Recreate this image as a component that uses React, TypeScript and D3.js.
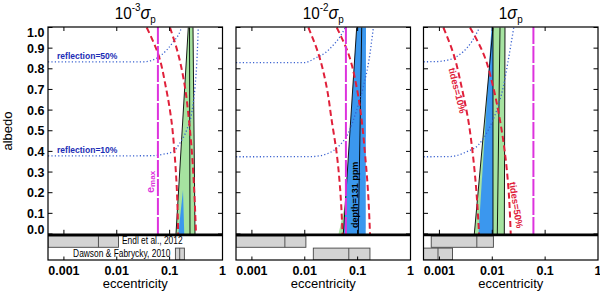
import React from "react";
import * as d3 from "d3";

type Pt = [number, number];

// ---------- data ----------
const panelTitleBase = ["10", "10", "1"];
const panelTitleExp = ["-3", "-2", ""];
const eccDomain: [number, number] = [0.0005, 1];
const xTickValues = [0.001, 0.01, 0.1, 1];
const xTickLabels = ["0.001", "0.01", "0.1", "1"];
const yTickValues = [0, 0.1, 0.2, 0.3, 0.4, 0.5, 0.6, 0.7, 0.8, 0.9, 1.0];
const yTickLabels = ["0.0", "0.1", "0.2", "0.3", "0.4", "0.5", "0.6", "0.7", "0.8", "0.9", "1.0"];
const eMax = 0.06;

const tideAlbedo = [1, 0.875, 0.71, 0.55, 0.39, 0.23, 0];
const tides10E = [
  [0.0368, 0.06, 0.085, 0.108, 0.124, 0.136, 0.145],
  [0.0117, 0.018, 0.026, 0.0323, 0.0402, 0.0463, 0.0518],
  [0.00119, 0.00183, 0.00264, 0.00352, 0.00427, 0.00492, 0.00562],
];
const tides50E = [
  [0.1016, 0.1439, 0.1954, 0.2323, 0.2649, 0.2891, 0.3155],
  [0.0402, 0.0665, 0.0959, 0.1194, 0.1377, 0.1549, 0.1714],
  [0.00379, 0.00676, 0.01045, 0.014, 0.01741, 0.0201, 0.02233],
];

const reflection50: Pt[][] = [
  [[0.0005, 0.834], [0.0318, 0.834], [0.045, 0.84], [0.0569, 0.851], [0.0879, 0.891], [0.1172, 0.931], [0.157, 0.98], [0.1675, 1.0]],
  [[0.0005, 0.83], [0.0101, 0.83], [0.01256, 0.838], [0.0156, 0.851], [0.02415, 0.877], [0.0347, 0.915], [0.0463, 0.955], [0.0585, 1.0]],
  [[0.0005, 0.834], [0.0009, 0.835], [0.001185, 0.838], [0.001832, 0.851], [0.00283, 0.883], [0.00408, 0.931], [0.00544, 0.988], [0.00574, 1.0]],
];
const reflection10: Pt[][] = [
  [[0.0005, 0.378], [0.0426, 0.379], [0.0748, 0.386], [0.1172, 0.4], [0.157, 0.441], [0.2104, 0.504], [0.2612, 0.586], [0.302, 0.712], [0.3334, 0.877], [0.348, 1.0]],
  [[0.0005, 0.374], [0.0135, 0.375], [0.0279, 0.391], [0.043, 0.423], [0.0665, 0.489], [0.0959, 0.6], [0.128, 0.713], [0.164, 0.843], [0.1986, 1.0]],
  [[0.0005, 0.374], [0.00159, 0.375], [0.00328, 0.3985], [0.00544, 0.431], [0.00841, 0.504], [0.01213, 0.6], [0.01617, 0.713], [0.0201, 0.843], [0.0255, 1.0]],
];

const greenBand: Pt[][] = [
  [[0.2254, 1], [0.2767, 1], [0.302, 0], [0.1318, 0]],
  [[0.0435, 0], [0.0552, 0], [0.0603, 0.165]],
  [[0.00457, 0], [0.01689, 0], [0.01741, 1], [0.01032, 1]],
];
const blueBand: Pt[][] = [
  [[0.146, 0], [0.189, 0], [0.179, 0.213]],
  [[0.0959, 1], [0.1439, 1], [0.1422, 0], [0.0536, 0]],
  [[0.00549, 0], [0.01032, 0], [0.01032, 1], [0.00967, 1]],
];
const bandEdges: Pt[][][] = [
  [[[0.1318, 0], [0.2254, 1]], [[0.2427, 0], [0.2377, 1]], [[0.302, 0], [0.2767, 1]]],
  [[[0.0536, 0], [0.0959, 1]], [[0.103, 0], [0.1194, 1]]],
  [[[0.00457, 0], [0.01032, 1]], [[0.01032, 0], [0.01032, 1]], [[0.01245, 0], [0.014, 1]], [[0.01689, 0], [0.01741, 1]]],
];

// [low, median, high]
const endlBars = [
  [0.0005, 0.0045, 0.0108],
  [0.0005, 0.0042, 0.0105],
  [0.0007, 0.0051, 0.0105],
];
const dawsonBars = [
  [0.1286, 0.155, 0.19],
  [0.0145, 0.068, 0.171],
  [0.0005, 0.00094, 0.00177],
];

// ---------- layout ----------
const panelLeft = [48, 236, 423.5];
const panelWidth = 174.5;
const frameTop = 27;
const plotTop = 27.5;
const plotBottom = 234;
const thickY = 234.8;
const rowMid = 247.6;
const stripBottom = 260;
const FONT = "'Liberation Sans', Arial, Helvetica, sans-serif";

const GREEN = "#a6e3a0";
const BLUE = "#3b97ee";
const RED = "#e0203a";
const DOT = "#3a62d0";
const MAG = "#dd33dd";

function Panel({ i }: { i: number }) {
  const x0 = panelLeft[i];
  const x1 = x0 + panelWidth;
  const cx = (x0 + x1) / 2;
  const x = d3.scaleLog().domain(eccDomain).range([x0, x1]);
  const y = d3.scaleLinear().domain([0, 1]).range([plotBottom, plotTop]);
  const clipId = `plotclip${i}`;
  const stripClip = `stripclip${i}`;
  const lineMX = d3.line<Pt>().x((d) => x(d[0])).y((d) => y(d[1])).curve(d3.curveMonotoneX);
  const lineMY = d3.line<Pt>().x((d) => x(d[0])).y((d) => y(d[1])).curve(d3.curveMonotoneY);
  const lin = d3.line<Pt>().x((d) => x(d[0])).y((d) => y(d[1]));
  const poly = (p: Pt[]) => (lin(p) || "") + "Z";
  const tide10: Pt[] = tides10E[i].map((e, k) => [e, tideAlbedo[k]] as Pt);
  const tide50: Pt[] = tides50E[i].map((e, k) => [e, tideAlbedo[k]] as Pt);

  const bar = (b: number[], top: number, bot: number, key: string) => (
    <g key={key}>
      <rect x={x(b[0])} y={top} width={x(b[2]) - x(b[0])} height={bot - top} fill="#d3d3d3" stroke="#444" strokeWidth={0.9} />
      <line x1={x(b[1])} x2={x(b[1])} y1={top} y2={bot} stroke="#444" strokeWidth={0.9} />
    </g>
  );

  return (
    <g>
      <defs>
        <clipPath id={clipId}>
          <rect x={x0} y={frameTop} width={panelWidth} height={plotBottom - frameTop} />
        </clipPath>
        <clipPath id={stripClip}>
          <rect x={x0} y={thickY} width={panelWidth} height={stripBottom - thickY} />
        </clipPath>
      </defs>

      <g clipPath={`url(#${clipId})`}>
        <path d={poly(greenBand[i])} fill={GREEN} stroke="none" />
        <path d={poly(blueBand[i])} fill={BLUE} stroke="none" />
        {bandEdges[i].map((seg, k) => (
          <path key={k} d={lin(seg) || ""} stroke="#000" strokeWidth={0.9} fill="none" />
        ))}
        <path d={lineMX(reflection50[i]) || ""} stroke={DOT} strokeWidth={1.3} strokeDasharray="1.2 2.2" fill="none" />
        <path d={lineMX(reflection10[i]) || ""} stroke={DOT} strokeWidth={1.3} strokeDasharray="1.2 2.2" fill="none" />
        <path d={lineMY(tide10) || ""} stroke={RED} strokeWidth={2} strokeDasharray="6 3.5" fill="none" />
        <path d={lineMY(tide50) || ""} stroke={RED} strokeWidth={2} strokeDasharray="6 3.5" fill="none" />
        <line x1={x(eMax)} x2={x(eMax)} y1={frameTop} y2={plotBottom} stroke={MAG} strokeWidth={2} strokeDasharray="17 2" />
      </g>

      {/* annotations */}
      {i === 0 && (
        <g fontFamily={FONT} fontWeight="bold">
          <text transform={`translate(${x(0.00074)},${y(0.834) - 2.5}) scale(0.9,1)`} fontSize={9.5} fill="#1a2db5">reflection=50%</text>
          <text transform={`translate(${x(0.00074)},${y(0.378) - 2.5}) scale(0.9,1)`} fontSize={9.5} fill="#1a2db5">reflection=10%</text>
          <text transform={`translate(${x(eMax) - 8},${y(0.252)}) rotate(-90)`} textAnchor="middle" dominantBaseline="central" fill={MAG} fontSize={11}>
            e<tspan fontSize={8} dy={2.5}>max</tspan>
          </text>
          <text transform={`translate(${x(endlBars[0][2]) + 3.4},${rowMid - 3.3}) scale(0.8,1)`} fontSize={10.5} fontWeight="normal" fill="#000">Endl et al., 2012</text>
          <text transform={`translate(${x(dawsonBars[0][0]) - 5},${stripBottom - 2.8}) scale(0.8,1)`} textAnchor="end" fontSize={10.5} fontWeight="normal" fill="#000">Dawson &amp; Fabrycky, 2010</text>
        </g>
      )}
      {i === 1 && (
        <text transform={`translate(${x(0.089)},${y(0.19)}) rotate(-90)`} textAnchor="middle" dominantBaseline="central" fontFamily={FONT} fontWeight="bold" fontSize={9} fill="#000">depth=131 ppm</text>
      )}
      {i === 2 && (
        <g fontFamily={FONT} fontWeight="bold" fill={RED} fontSize={9.5}>
          <text transform={`translate(${x(0.0022)},${y(0.695)}) rotate(76)`} textAnchor="middle" dominantBaseline="central">tides=10%</text>
          <text transform={`translate(${x(0.0285)},${y(0.14)}) rotate(81)`} textAnchor="middle" dominantBaseline="central">tides=50%</text>
        </g>
      )}

      {/* strip bars */}
      <g clipPath={`url(#${stripClip})`}>
        {bar(endlBars[i], 236, rowMid - 0.3, "endl")}
        {bar(dawsonBars[i], rowMid + 0.5, stripBottom, "dawson")}
      </g>

      {/* frame */}
      <rect x={x0} y={frameTop} width={panelWidth} height={stripBottom - frameTop} fill="none" stroke="#000" strokeWidth={1.2} />
      <line x1={x0} x2={x1} y1={thickY} y2={thickY} stroke="#000" strokeWidth={2.8} />

      {/* ticks */}
      {yTickValues.map((v) => (
        <g key={"yt" + v}>
          <line x1={x0} x2={x0 + 4.5} y1={y(v)} y2={y(v)} stroke="#000" strokeWidth={1} />
          <line x1={x1 - 4.5} x2={x1} y1={y(v)} y2={y(v)} stroke="#000" strokeWidth={1} />
        </g>
      ))}
      {xTickValues.slice(0, 3).map((v) => (
        <g key={"xt" + v}>
          <line x1={x(v)} x2={x(v)} y1={frameTop} y2={frameTop + 4} stroke="#000" strokeWidth={1} />
          <line x1={x(v)} x2={x(v)} y1={thickY - 5} y2={thickY} stroke="#000" strokeWidth={1} />
          <line x1={x(v)} x2={x(v)} y1={stripBottom - 3.5} y2={stripBottom} stroke="#000" strokeWidth={1} />
        </g>
      ))}

      {/* x tick labels */}
      {xTickValues.map((v, k) => (
        <text key={"xl" + v} x={x(v)} y={274.5} textAnchor="middle" fontFamily={FONT} fontWeight="bold" fontSize={12.5}>
          {xTickLabels[k]}
        </text>
      ))}
      <text x={cx} y={288} textAnchor="middle" fontFamily={FONT} fontSize={13}>eccentricity</text>

      {/* title */}
      <text transform={`translate(${cx},19) scale(0.9,1)`} textAnchor="middle" fontFamily={FONT} fontSize={17}>
        <tspan>{panelTitleBase[i]}</tspan>
        {panelTitleExp[i] ? <tspan fontSize={11} dy={-8}>{panelTitleExp[i]}</tspan> : null}
        <tspan fontStyle="italic" fontSize={18} dy={panelTitleExp[i] ? 8 : 0}>σ</tspan>
        <tspan fontSize={11} dy={4}>p</tspan>
      </text>

      {/* y tick labels (first panel only) */}
      {i === 0 &&
        yTickValues.map((v, k) => {
          const shift = v === 1 ? 5.5 : v === 0 ? -4.5 : 0.5;
          return (
            <text key={"yl" + v} x={x0 - 3.5} y={y(v) + shift} textAnchor="end" dominantBaseline="central" fontFamily={FONT} fontWeight="bold" fontSize={12.5}>
              {yTickLabels[k]}
            </text>
          );
        })}
    </g>
  );
}

export default function App() {
  return (
    <svg width={600} height={294} viewBox="0 0 600 294" style={{ position: "absolute", left: 0, top: 0, background: "#fff" }}>
      <rect x={0} y={0} width={600} height={294} fill="#fff" />
      <text transform={`translate(12,131) rotate(-90)`} textAnchor="middle" fontFamily={FONT} fontSize={13}>albedo</text>
      {[0, 1, 2].map((i) => (
        <Panel key={i} i={i} />
      ))}
    </svg>
  );
}
